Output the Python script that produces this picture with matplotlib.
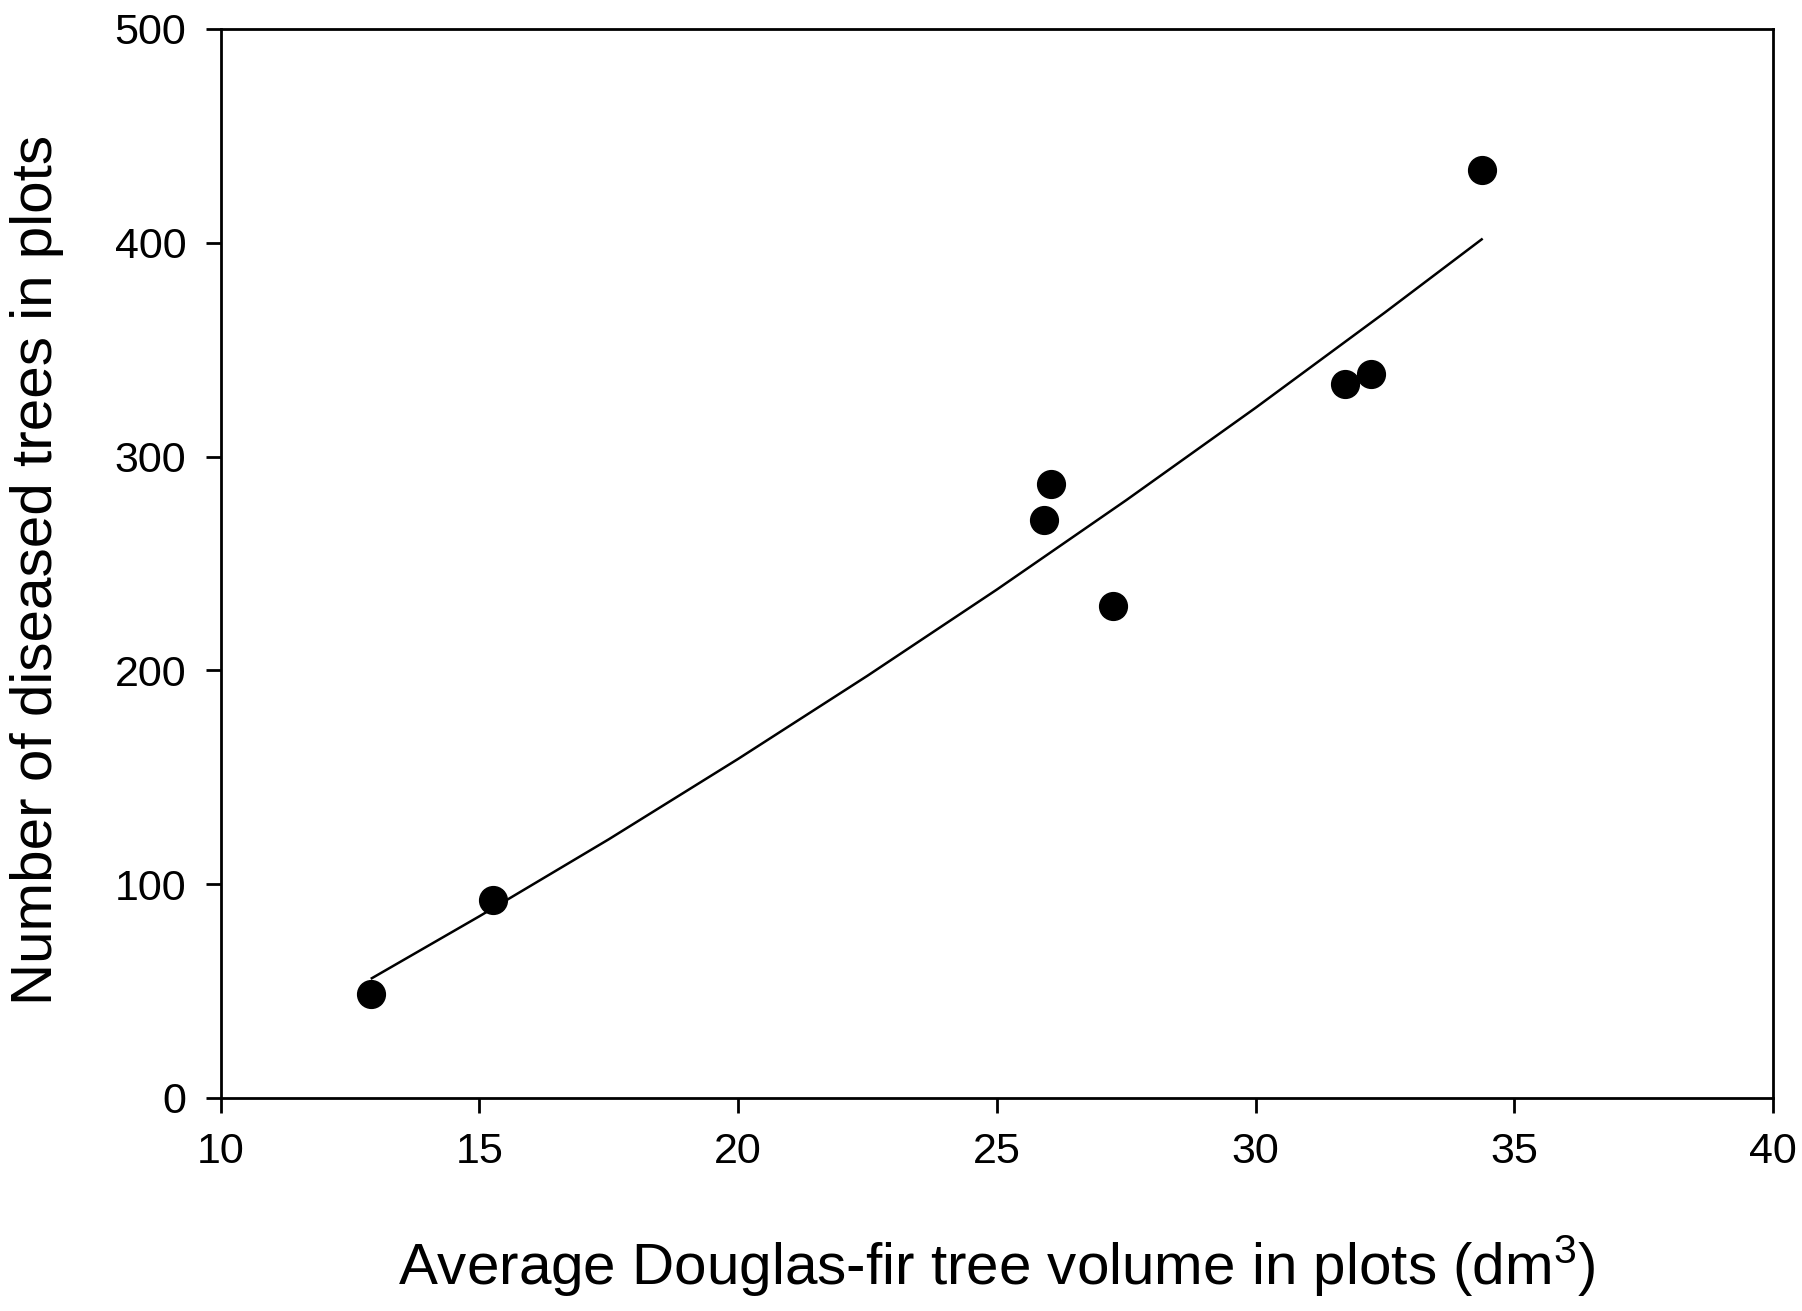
import matplotlib
matplotlib.use("Agg")
import matplotlib.pyplot as plt

plt.rcParams['font.family'] = ['Liberation Sans', 'DejaVu Sans']
plt.rcParams['mathtext.fontset'] = 'custom'
plt.rcParams['mathtext.rm'] = 'Liberation Sans'
plt.rcParams['mathtext.default'] = 'regular'

# observed plots
volume = [12.9, 15.26, 25.92, 26.04, 27.24, 31.72, 32.23, 34.37]
diseased = [48.6, 92.6, 270.3, 287.0, 230.3, 334.0, 338.6, 434.1]

# fitted curve
fit_x = [12.92, 15.0, 17.5, 20.0, 22.5, 25.0, 27.5, 30.0, 32.5, 34.37]
fit_y = [56, 85, 121, 158.6, 197.5, 237.8, 279.6, 322.8, 367.4, 401.6]

xticks = [10, 15, 20, 25, 30, 35, 40]
yticks = [0, 100, 200, 300, 400, 500]

fig = plt.figure(figsize=(18.02, 13.11), dpi=100)
ax = fig.add_axes([0.1225, 0.1625, 0.8614, 0.8154])

ax.plot(fit_x, fit_y, color='black', linewidth=1.8, zorder=2)
ax.plot(volume, diseased, linestyle='none', marker='o', markersize=20,
        color='black', zorder=3)

ax.set_xlim(10, 40)
ax.set_ylim(0, 500)
ax.set_xticks(xticks)
ax.set_yticks(yticks)
ax.set_xticklabels([str(t) for t in xticks])
ax.set_yticklabels([str(t) for t in yticks])

for s in ax.spines.values():
    s.set_linewidth(2.0)

ax.tick_params(axis='both', direction='out', length=10.8, width=2.0,
               labelsize=31, pad=14, top=False, right=False)

ax.set_ylabel('Number of diseased trees in plots', fontsize=42, va='center')
ax.yaxis.set_label_coords(-0.1183, 0.494)
ax.set_xlabel('Average Douglas-fir tree volume in plots (dm$^{3}$)', fontsize=42,
              va='baseline')
ax.xaxis.set_label_coords(0.5, -0.175)

fig.savefig('out.png', dpi=100, facecolor='white')
